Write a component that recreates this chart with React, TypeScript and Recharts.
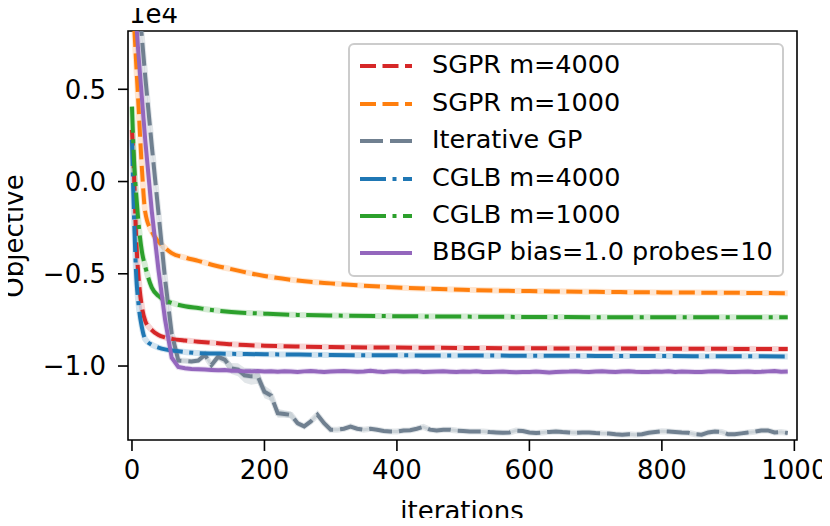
import React from 'react';
import { ComposedChart, Line, Area, XAxis, YAxis, ReferenceArea } from 'recharts';

// iterations for the smooth curves (read at uneven spacing, dense at the start)
const SMOOTH_ITERS = [0, 3, 6, 10, 15, 20, 30, 40, 50, 60, 80, 100, 125, 150, 200, 250, 300, 400, 500, 600, 700, 800, 900, 990];

const SGPR_4000 = [2800, 500, -2800, -5200, -6800, -7550, -8050, -8320, -8450, -8530, -8620, -8680, -8750, -8820, -8900, -8940, -8970, -9000, -9020, -9040, -9050, -9060, -9070, -9080];
const SGPR_1000 = [10600, 8650, 6640, 4000, 700, -1650, -2720, -3250, -3600, -3880, -4120, -4300, -4550, -4750, -5120, -5370, -5520, -5740, -5870, -5940, -5980, -6010, -6030, -6050];
const CGLB_4000 = [2260, -1750, -4800, -6700, -7900, -8550, -8850, -9000, -9100, -9160, -9240, -9300, -9320, -9340, -9360, -9380, -9400, -9420, -9430, -9440, -9450, -9460, -9470, -9480];
const CGLB_1000 = [4060, 1200, -500, -2300, -3800, -4600, -5750, -6200, -6450, -6580, -6760, -6860, -6980, -7070, -7160, -7230, -7260, -7300, -7320, -7340, -7350, -7350, -7360, -7360];

// iterations for the noisy curves
const DENSE_ITERS = [
  0, 10, 20, 30, 40, 50, 60, 70, 80, 90,
  100, 110, 120, 130, 140, 150, 160, 170, 180, 190,
  200, 210, 220, 230, 240, 250, 260, 270, 280, 290,
  300, 310, 320, 330, 340, 350, 360, 370, 380, 390,
  400, 410, 420, 430, 440, 450, 460, 470, 480, 490,
  500, 510, 520, 530, 540, 550, 560, 570, 580, 590,
  600, 610, 620, 630, 640, 650, 660, 670, 680, 690,
  700, 710, 720, 730, 740, 750, 760, 770, 780, 790,
  800, 810, 820, 830, 840, 850, 860, 870, 880, 890,
  900, 910, 920, 930, 940, 950, 960, 970, 980, 990,
];

const ITERATIVE_GP = [
  14000, 9900, 5700, 1900, -1700, -5300, -8250, -9700, -9720, -9750,
  -9700, -9400, -9950, -9500, -9650, -10130, -10200, -10500, -10560, -10560,
  -11400, -11600, -12560, -12600, -12650, -13100, -13270, -13000, -12640, -13100,
  -13450, -13450, -13400, -13280, -13400, -13450, -13400, -13450, -13520, -13550,
  -13550, -13500, -13480, -13400, -13300, -13450, -13500, -13450, -13450, -13500,
  -13520, -13550, -13550, -13550, -13580, -13600, -13620, -13600, -13500, -13520,
  -13600, -13630, -13600, -13570, -13550, -13580, -13600, -13620, -13600, -13600,
  -13630, -13650, -13660, -13700, -13720, -13700, -13720, -13700, -13620, -13580,
  -13540, -13550, -13570, -13600, -13620, -13700, -13720, -13600, -13550, -13570,
  -13700, -13700, -13650, -13600, -13560, -13500, -13490, -13600, -13580, -13630,
];

const ITERATIVE_GP_STD = [
  150, 150, 150, 150, 150, 150, 150, 120, 100, 100,
  100, 120, 150, 200, 250, 300, 350, 400, 450, 400,
  350, 300, 250, 200, 180, 150, 120, 120, 120, 100,
  90, 80, 80, 80, 80, 80, 80, 80, 80, 80,
  80, 80, 80, 80, 80, 80, 80, 80, 80, 80,
  80, 80, 80, 80, 80, 80, 80, 80, 80, 80,
  80, 80, 80, 80, 80, 80, 80, 80, 80, 80,
  80, 80, 80, 80, 80, 80, 80, 80, 80, 80,
  80, 80, 80, 80, 80, 80, 80, 80, 80, 80,
  80, 80, 80, 80, 80, 80, 80, 80, 80, 80,
];

const BBGP = [
  11800, 6800, 2250, -1640, -4780, -7490, -9550, -10050, -10120, -10160,
  -10170, -10190, -10210, -10230, -10220, -10250, -10260, -10290, -10290, -10270,
  -10300, -10280, -10310, -10290, -10300, -10320, -10290, -10270, -10300, -10320,
  -10300, -10280, -10270, -10290, -10310, -10300, -10260, -10300, -10330, -10290,
  -10280, -10310, -10300, -10290, -10320, -10310, -10300, -10290, -10310, -10330,
  -10300, -10310, -10290, -10320, -10330, -10310, -10300, -10320, -10340, -10330,
  -10320, -10300, -10320, -10350, -10330, -10310, -10300, -10280, -10310, -10320,
  -10300, -10290, -10310, -10330, -10300, -10280, -10310, -10330, -10320, -10300,
  -10310, -10290, -10320, -10300, -10310, -10330, -10320, -10300, -10280, -10300,
  -10320, -10330, -10310, -10300, -10320, -10310, -10290, -10270, -10310, -10300,
];

const X_TICKS = [0, 200, 400, 600, 800, 1000];
const Y_TICKS = [-10000, -5000, 0, 5000];
const X_DOMAIN: [number, number] = [-6, 1004];
const Y_DOMAIN: [number, number] = [-14010, 8160];

const FONT = '"DejaVu Sans", sans-serif';

const rows = (iters: number[], values: number[]) => iters.map((iter, i) => ({ iter, v: values[i] }));

const SERIES = [
  { name: 'SGPR m=4000', color: '#d62728', dash: '16 6.5', curve: 'monotone', data: rows(SMOOTH_ITERS, SGPR_4000) },
  { name: 'SGPR m=1000', color: '#ff7f0e', dash: '16 6.5', curve: 'monotone', data: rows(SMOOTH_ITERS, SGPR_1000) },
  { name: 'Iterative GP', color: '#708090', dash: '23 7', curve: 'linear', data: rows(DENSE_ITERS, ITERATIVE_GP) },
  { name: 'CGLB m=4000', color: '#1f77b4', dash: '26 6.5 4 6.5', curve: 'monotone', data: rows(SMOOTH_ITERS, CGLB_4000) },
  { name: 'CGLB m=1000', color: '#2ca02c', dash: '26 6.5 4 6.5', curve: 'monotone', data: rows(SMOOTH_ITERS, CGLB_1000) },
  { name: 'BBGP bias=1.0 probes=10', color: '#9467bd', dash: undefined, curve: 'linear', data: rows(DENSE_ITERS, BBGP) },
];

const gpBand = DENSE_ITERS.map((iter, i) => ({
  iter,
  band: [ITERATIVE_GP[i] - ITERATIVE_GP_STD[i], ITERATIVE_GP[i] + ITERATIVE_GP_STD[i]],
}));

const fmtY = (v: number) => (v / 10000).toFixed(1).replace('-', '\u2212');

const LegendBox = () => (
  <div
    style={{
      position: 'absolute', left: 348, top: 43, width: 436, height: 234, boxSizing: 'border-box',
      border: '2px solid #cccccc', borderRadius: 6, background: 'rgba(255,255,255,0.8)', fontFamily: FONT,
    }}
  >
    {SERIES.map((s, i) => (
      <div key={s.name} style={{ position: 'absolute', left: 0, top: 1.3 + i * 37.4, height: 37.4, width: 430 }}>
        <svg width={54} height={37.4} style={{ position: 'absolute', left: 10, top: 0 }}>
          <line x1={0} x2={52} y1={20} y2={20} stroke={s.color} strokeWidth={4} strokeDasharray={s.dash} />
        </svg>
        <span style={{ position: 'absolute', left: 82, top: 0, lineHeight: '37.4px', fontSize: 25.5, color: '#000', whiteSpace: 'nowrap' }}>
          {s.name}
        </span>
      </div>
    ))}
  </div>
);

export default function App() {
  return (
    <div style={{ position: 'relative', width: 830, height: 526, margin: -8, background: '#fff', fontFamily: FONT }}>
      <ComposedChart width={830} height={526} margin={{ top: 31, right: 33, bottom: 0, left: 0 }}>
        <XAxis
          type="number" dataKey="iter" domain={X_DOMAIN} allowDataOverflow ticks={X_TICKS} height={86}
          axisLine={false} tickSize={11} tickMargin={10}
          tickLine={{ stroke: '#000', strokeWidth: 1.6 }}
          tick={{ fill: '#000', fontSize: 26, fontFamily: FONT }}
        />
        <YAxis
          type="number" domain={Y_DOMAIN} allowDataOverflow ticks={Y_TICKS} width={128}
          axisLine={false} tickSize={10} tickMargin={12} tickFormatter={fmtY}
          tickLine={{ stroke: '#000', strokeWidth: 1.6 }}
          tick={{ fill: '#000', fontSize: 26, fontFamily: FONT }}
        />
        {SERIES.map((s) => (
          <Line
            key={s.name + '-halo'} data={s.data} dataKey="v" type={s.curve as 'linear'} stroke={s.color}
            strokeOpacity={0.2} strokeWidth={6} dot={false} activeDot={false} isAnimationActive={false} legendType="none"
          />
        ))}
        <Area
          data={gpBand} dataKey="band" type="linear" stroke="none" fill="#708090" fillOpacity={0.2}
          isAnimationActive={false} legendType="none"
        />
        {SERIES.map((s) => (
          <Line
            key={s.name} data={s.data} dataKey="v" name={s.name} type={s.curve as 'linear'} stroke={s.color}
            strokeWidth={4} strokeDasharray={s.dash} dot={false} activeDot={false} isAnimationActive={false}
          />
        ))}
        <ReferenceArea
          x1={X_DOMAIN[0]} x2={X_DOMAIN[1]} y1={Y_DOMAIN[0]} y2={Y_DOMAIN[1]}
          fill="none" stroke="#000" strokeWidth={1.6} ifOverflow="visible"
        />
        <text x={129} y={23} fontSize={26} fontFamily={FONT} fill="#000">1e4</text>
        <text x={23} y={236} transform="rotate(-90 23 236)" textAnchor="middle" fontSize={26} fontFamily={FONT} fill="#000">Objective</text>
        <text x={462} y={520} textAnchor="middle" fontSize={26} fontFamily={FONT} fill="#000">iterations</text>
      </ComposedChart>
      <LegendBox />
    </div>
  );
}
